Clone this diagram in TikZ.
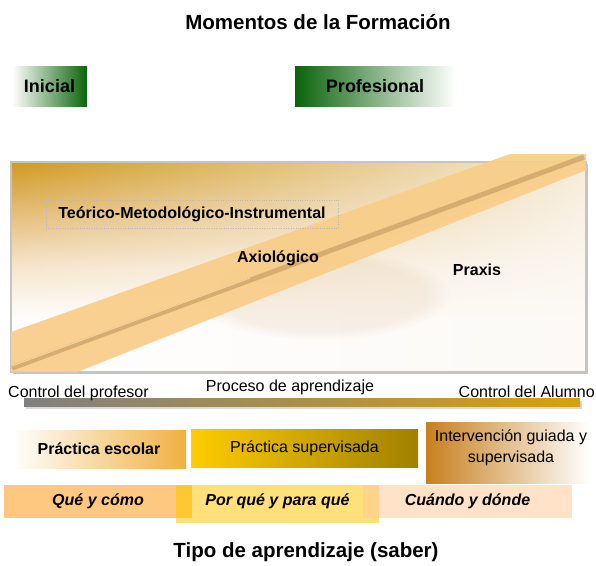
\documentclass[tikz,border=0pt]{standalone}
\usepackage{fontspec}
\setmainfont{Liberation Sans}
\usetikzlibrary{fadings}
\definecolor{dgreen}{RGB}{10,100,10}
\definecolor{goldtop}{RGB}{208,154,32}
\definecolor{goldmid}{RGB}{230,192,128}
\definecolor{goldlow}{RGB}{246,230,206}
\definecolor{bandc}{RGB}{249,205,136}
\definecolor{bandline}{RGB}{214,172,112}
\definecolor{bandhi}{RGB}{246,212,160}
\definecolor{barl}{RGB}{128,128,128}
\definecolor{barr}{RGB}{214,160,16}
\definecolor{peR}{RGB}{240,176,64}
\definecolor{psL}{RGB}{255,204,0}
\definecolor{psR}{RGB}{160,128,0}
\definecolor{igL}{RGB}{200,128,30}
\definecolor{qc}{RGB}{255,200,128}
\definecolor{pc}{RGB}{255,224,122}
\definecolor{cc}{RGB}{255,226,200}
\definecolor{ovA}{RGB}{255,200,50}
\definecolor{ovB}{RGB}{255,212,138}
\definecolor{frameg}{RGB}{196,196,196}
\definecolor{tanshadow}{RGB}{222,190,150}
\definecolor{whitish}{RGB}{252,249,245}
\pgfdeclareverticalshading{frameshade}{100bp}{color(0bp)=(white); color(25bp)=(white); color(37bp)=(white); color(50bp)=(goldlow); color(62bp)=(goldmid); color(75bp)=(goldtop); color(100bp)=(goldtop)}
\tikzset{
  titletext/.style={font=\fontsize{20.5}{24}\selectfont\bfseries},
  headtext/.style={font=\fontsize{18}{21}\selectfont\bfseries},
  boldtext/.style={font=\fontsize{16}{19}\selectfont\bfseries},
  plaintext/.style={font=\fontsize{16}{19}\selectfont},
  bitext/.style={font=\fontsize{16}{19}\selectfont\bfseries\itshape},
  boxnode/.style={inner sep=0pt, outer sep=0pt, draw=none},
}
\begin{document}
\begin{tikzpicture}[x=1pt,y=-1pt]
\useasboundingbox (0,0) rectangle (596,565);
% title
\node[titletext] (title) at (318,22) {Momentos de la Formación};
% moments
\node[boxnode, headtext, minimum width=75, minimum height=40, left color=white, right color=dgreen] (ini) at (49.5,86) {Inicial};
\node[boxnode, headtext, minimum width=160, minimum height=40, left color=dgreen, right color=white] (prof) at (375,86) {Profesional};
% big frame
\fill[gray!45] (13,164) rectangle (588,374);
\shade[shading=frameshade] (11,162) rectangle (586,372);
\fill[whitish, opacity=0.88, path fading=west] (11,162) rectangle (586,372);
\fill[tanshadow, opacity=0.2, path fading=circle with fuzzy edge 20 percent] (320,295) ellipse [x radius=130, y radius=45];
\draw[frameg, line width=2.2] (11,162) rectangle (586,372);
% band
\fill[bandc, opacity=0.92] (11,332) -- (510,154) -- (586,154) -- (586,170) -- (77,372) -- (11,372) -- cycle;
\draw[bandline, line width=5] (12,368) -- (584,157);
\draw[bandhi, line width=1] (12,366) -- (250,278);
% labels in frame
\node[boxnode, boldtext, draw=gray!55, dotted, minimum width=292, minimum height=28] (tmi) at (192,214) {Teórico-Metodológico-Instrumental};
\node[boldtext] (axio) at (278,258) {Axiológico};
\node[boldtext] (praxis) at (477,270) {Praxis};
% process bar
\fill[gray!30] (26,401) rectangle (582,409);
\shade[left color=barl, right color=barr] (24,398) rectangle (580,406);
\node[plaintext, anchor=base west, inner sep=0pt] (cprof) at (8,397) {Control del profesor};
\node[plaintext, anchor=base, inner sep=0pt] (proc) at (290,391) {Proceso de aprendizaje};
\node[plaintext, anchor=base east, inner sep=0pt] (calum) at (595,397) {Control del Alumno};
% practice boxes
\node[boxnode, boldtext, minimum width=174, minimum height=38, left color=white, right color=peR] (pe) at (99,449) {Práctica escolar};
\node[boxnode, plaintext, minimum width=227, minimum height=38, left color=psL, right color=psR] (ps) at (304.5,448) {Práctica supervisada};
\node[boxnode, minimum width=164, minimum height=61, left color=igL, right color=white] (ig) at (508,452.5) {};
\node[plaintext, align=center, font=\fontsize{16}{21}\selectfont, inner sep=0pt] (igt) at (511,447.5) {Intervención guiada y\\supervisada};
% knowledge boxes
\node[boxnode, bitext, minimum width=188, minimum height=33, fill=qc] (que) at (98,501.5) {Qué y cómo};
\node[boxnode, bitext, minimum width=203, minimum height=38, text depth=8pt, fill=pc] (porque) at (277.5,504) {Por qué y para qué};
\node[boxnode, bitext, minimum width=209, minimum height=33, fill=cc] (cuando) at (467.5,501.5) {Cuándo y dónde};
\fill[ovA] (176,485) rectangle (192,518);
\fill[ovB] (363,485) rectangle (379,518);
% bottom title
\node[titletext] (tipo) at (306,552) {Tipo de aprendizaje (saber)};
\end{tikzpicture}
\end{document}
